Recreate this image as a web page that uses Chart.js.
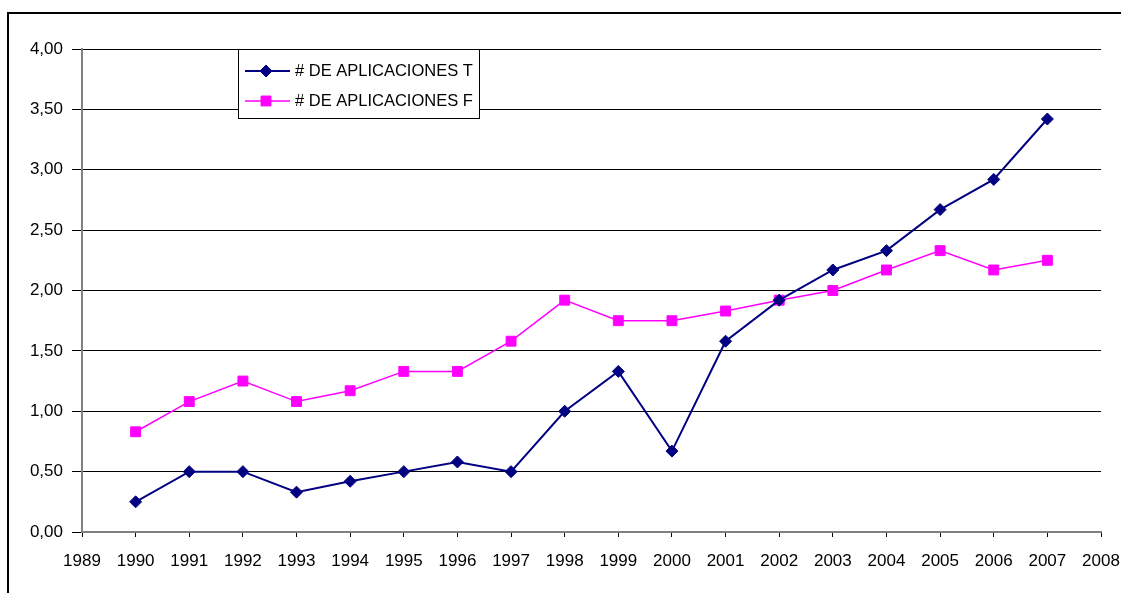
<!DOCTYPE html>
<html>
<head>
<meta charset="utf-8">
<script src="https://cdn.jsdelivr.net/npm/chart.js@4/dist/chart.umd.min.js"></script>
<style>
  html, body { margin: 0; padding: 0; background: #fff; }
  #wrap { position: relative; width: 1121px; height: 593px; overflow: hidden; }
  #frame { position: absolute; left: 7px; top: 12px; width: 1200px; height: 700px;
           border-left: 2px solid #000; border-top: 2px solid #000; }
  canvas { position: absolute; left: 0; top: 0; }
</style>
</head>
<body>
<div id="wrap">
  <div id="frame"></div>
  <canvas id="c" width="1121" height="593"></canvas>
</div>
<script>
const years = [1990,1991,1992,1993,1994,1995,1996,1997,1998,1999,2000,2001,2002,2003,2004,2005,2006,2007];
const seriesT = [0.25,0.50,0.50,0.33,0.42,0.50,0.58,0.50,1.00,1.33,0.67,1.58,1.92,2.17,2.33,2.67,2.92,3.42];
const seriesF = [0.83,1.08,1.25,1.08,1.17,1.33,1.33,1.58,1.92,1.75,1.75,1.83,1.92,2.00,2.17,2.33,2.17,2.25];
const labelT = '# DE APLICACIONES T';
const labelF = '# DE APLICACIONES F';
const xMin = 1989, xMax = 2008;
const yMin = 0, yMax = 4, yStep = 0.5;

const FONT = "'Liberation Sans', Arial, sans-serif";

const legendPlugin = {
  id: 'boxLegend',
  afterDraw(chart) {
    const ctx = chart.ctx;
    const x0 = 238, y0 = 49, w = 241, h = 69;
    const rows = [71, 101];
    ctx.save();
    ctx.fillStyle = '#fff';
    ctx.fillRect(x0, y0, w, h);
    ctx.strokeStyle = '#000';
    ctx.lineWidth = 1;
    ctx.strokeRect(x0 + 0.5, y0 + 0.5, w, h);
    chart.data.datasets.forEach((ds, i) => {
      const y = rows[i];
      ctx.strokeStyle = ds.borderColor;
      ctx.lineWidth = ds.borderWidth;
      ctx.beginPath();
      ctx.moveTo(245, y);
      ctx.lineTo(290, y);
      ctx.stroke();
      ctx.fillStyle = ds.pointBackgroundColor;
      ctx.strokeStyle = ds.pointBorderColor;
      ctx.lineWidth = 1;
      Chart.helpers.drawPoint(ctx, {
        pointStyle: ds.pointStyle, radius: ds.pointRadius, borderWidth: 1, rotation: 0
      }, 266, y);
      ctx.fillStyle = '#000';
      ctx.font = '16.5px ' + FONT;
      ctx.textBaseline = 'middle';
      ctx.textAlign = 'left';
      ctx.fillText(ds.label, 295, y);
    });
    ctx.restore();
  }
};

new Chart(document.getElementById('c'), {
  type: 'line',
  data: {
    datasets: [
      {
        label: labelT,
        data: years.map((x, i) => ({ x, y: seriesT[i] })),
        borderColor: '#000080',
        backgroundColor: '#000080',
        pointBackgroundColor: '#000080',
        pointBorderColor: '#000080',
        borderWidth: 2,
        pointStyle: 'rectRot',
        pointRadius: 6,
        pointBorderWidth: 1,
        tension: 0
      },
      {
        label: labelF,
        data: years.map((x, i) => ({ x, y: seriesF[i] })),
        borderColor: '#FF00FF',
        backgroundColor: '#FF00FF',
        pointBackgroundColor: '#FF00FF',
        pointBorderColor: '#FF00FF',
        borderWidth: 1.5,
        pointStyle: 'rect',
        pointRadius: 7,
        pointBorderWidth: 1,
        tension: 0
      }
    ]
  },
  options: {
    responsive: false,
    animation: false,
    devicePixelRatio: 1,
    layout: { padding: { left: 0, top: 49, right: 20, bottom: 0 } },
    plugins: { legend: { display: false }, tooltip: { enabled: false } },
    scales: {
      x: {
        type: 'linear',
        min: xMin, max: xMax,
        afterFit(s) { s.height = 61; s.paddingRight = 0; s.paddingLeft = 0; },
        ticks: {
          stepSize: 1,
          color: '#000',
          font: { family: FONT, size: 17 },
          padding: 14,
          maxRotation: 0,
          autoSkip: false,
          callback: v => String(v)
        },
        grid: { drawOnChartArea: false, drawTicks: true, tickLength: 5, color: '#000' },
        border: { display: true, color: '#808080', width: 2 }
      },
      y: {
        min: yMin, max: yMax,
        afterFit(s) { s.width = 82; s.paddingTop = 0; s.paddingBottom = 0; },
        ticks: {
          stepSize: yStep,
          color: '#000',
          font: { family: FONT, size: 17 },
          padding: 9,
          callback: v => v.toFixed(2).replace('.', ',')
        },
        grid: { color: '#000', lineWidth: 1, tickLength: 10, drawTicks: true },
        border: { display: true, color: '#808080', width: 2 }
      }
    }
  },
  plugins: [legendPlugin]
});
</script>
</body>
</html>
